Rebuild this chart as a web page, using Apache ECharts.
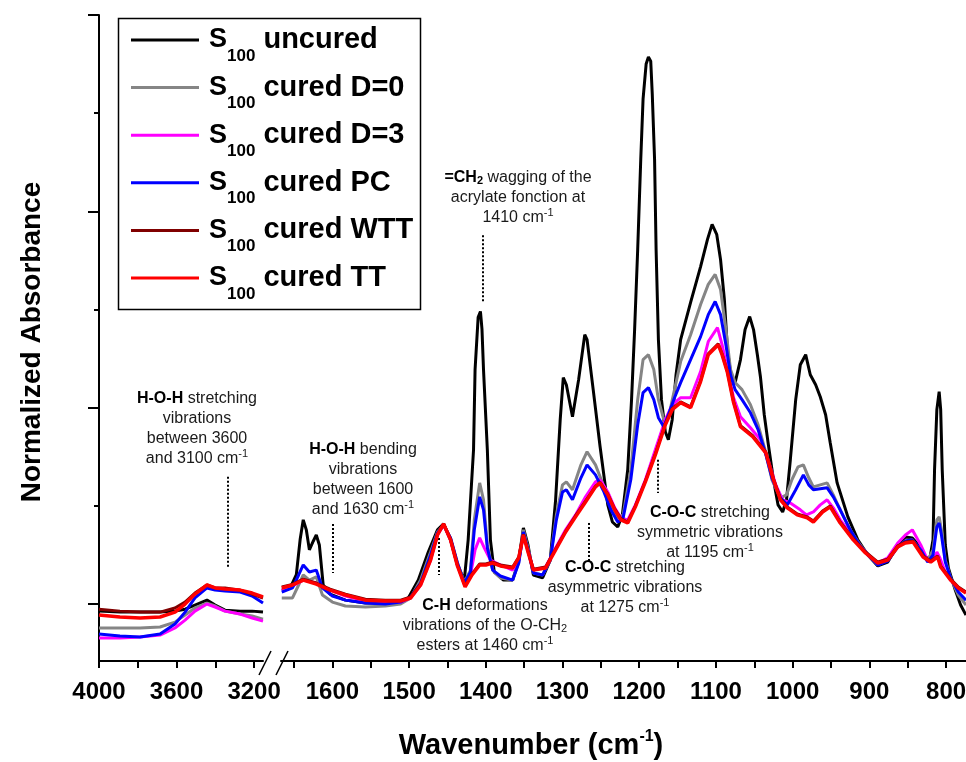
<!DOCTYPE html>
<html><head><meta charset="utf-8">
<script src="https://cdn.jsdelivr.net/npm/echarts@6.0.0/dist/echarts.min.js"></script>
<style>html,body{margin:0;padding:0;background:#fff}#c{width:966px;height:762px}</style>
</head><body><div id="c"></div>
<script>
// ---------- DATA ----------
const seriesNames = ['S100 uncured','S100 cured D=0','S100 cured D=3','S100 cured PC','S100 cured WTT','S100 cured TT'];
const seriesColors = ['#000000','#858585','#ff00ff','#0000ff','#800000','#ff0000'];

// x ticks / labels
const ticksHigh = [4000,3800,3600,3400,3200];
const labelsHigh = [4000,3600,3200];
const ticksLow = [1650,1600,1550,1500,1450,1400,1350,1300,1250,1200,1150,1100,1050,1000,950,900,850,800];
const labelsLow = [1600,1500,1400,1300,1200,1100,1000,900,800];
const yMajor = [0,10,20,30];
const yMinor = [5,15,25];

// high wavenumber segment (4000-3150 cm-1)
const wnHigh = [4000,3892,3788,3685,3608,3556,3505,3443,3401,3350,3272,3210,3154];
const uncuredHigh = [-0.36,-0.41,-0.41,-0.41,-0.36,-0.26,-0.05,0.20,-0.05,-0.31,-0.36,-0.36,-0.41];
const d0High  = [-1.22,-1.22,-1.22,-1.17,-0.92,-0.56,-0.20,0.05,-0.10,-0.36,-0.51,-0.61,-0.77];
const d3High  = [-1.73,-1.73,-1.68,-1.58,-1.22,-0.82,-0.36,0.00,-0.15,-0.36,-0.51,-0.71,-0.87];
const pcHigh  = [-1.53,-1.63,-1.68,-1.53,-1.02,-0.41,0.31,0.82,0.71,0.66,0.61,0.41,0.05];
const wttHigh = [-0.26,-0.36,-0.41,-0.41,-0.20,0.10,0.56,0.97,0.82,0.82,0.71,0.51,0.31];
const ttHigh  = [-0.56,-0.66,-0.71,-0.66,-0.41,0.00,0.51,0.97,0.82,0.77,0.71,0.56,0.36];

// low wavenumber segment (1667-774 cm-1): [wavenumber, absorbance]
const uncuredLow = [[1666,0.71],[1655,0.82],[1647,1.5],[1642,3.3],[1638,4.29],[1634,3.78],[1630,2.76],[1625,3.2],[1621,3.52],[1617,3.01],[1612,0.97],[1603,0.51],[1583,0.20],[1557,0.05],[1531,0.05],[1511,0.10],[1501,0.31],[1488,1.22],[1475,2.65],[1463,3.78],[1455,4.08],[1446,3.27],[1437,1.99],[1428,1.22],[1423,3.27],[1416,7.86],[1414,11.94],[1410,14.6],[1407,14.9],[1405,14.0],[1403,11.94],[1398,7.86],[1394,3.27],[1389,1.63],[1377,1.22],[1365,1.22],[1357,2.24],[1351,3.88],[1345,3.01],[1338,1.48],[1326,1.33],[1316,2.24],[1309,5.31],[1303,9.39],[1299,11.53],[1295,11.17],[1287,9.54],[1279,11.43],[1271,13.72],[1268,13.47],[1260,10.92],[1251,8.01],[1241,5.05],[1235,4.18],[1228,3.93],[1222,4.54],[1215,6.84],[1210,10.41],[1206,13.98],[1202,18.06],[1198,22.65],[1195,25.71],[1191,27.5],[1188,27.86],[1185,27.65],[1183,25.97],[1180,22.65],[1178,18.06],[1175,13.47],[1171,10.41],[1166,8.78],[1162,8.37],[1157,9.39],[1152,11.68],[1146,13.47],[1133,15.36],[1120,17.19],[1111,18.57],[1105,19.34],[1099,18.83],[1094,17.55],[1089,15.51],[1085,12.96],[1080,11.53],[1075,11.28],[1068,12.45],[1062,13.98],[1056,14.64],[1051,13.98],[1046,12.70],[1042,11.58],[1037,9.64],[1032,8.21],[1025,6.33],[1019,5.05],[1013,4.69],[1008,5.31],[1003,7.35],[996,10.41],[990,12.19],[983,12.70],[977,11.68],[970,11.17],[964,10.56],[957,9.64],[951,8.21],[942,6.17],[928,4.44],[915,3.27],[902,2.50],[889,1.94],[876,2.14],[863,3.01],[853,3.42],[844,3.37],[836,3.01],[828,2.40],[821,2.35],[817,3.27],[815,6.84],[812,9.90],[809,10.82],[807,9.90],[805,6.84],[801,3.01],[797,1.84],[788,0.71],[781,-0.05],[774,-0.56]];
const d0Low = [[1666,0.31],[1652,0.31],[1644,0.97],[1638,1.48],[1630,1.22],[1621,1.38],[1613,0.46],[1600,0.10],[1583,-0.10],[1557,-0.15],[1531,-0.10],[1511,0.0],[1498,0.31],[1485,1.22],[1472,2.65],[1463,3.67],[1455,4.03],[1446,3.37],[1437,2.09],[1428,1.12],[1420,1.73],[1415,4.29],[1408,6.17],[1403,5.31],[1398,3.01],[1391,1.73],[1381,1.33],[1365,1.22],[1357,2.14],[1351,3.78],[1345,2.86],[1338,1.58],[1326,1.48],[1316,2.24],[1308,4.54],[1300,6.07],[1295,6.22],[1287,5.82],[1276,7.09],[1268,7.76],[1257,7.09],[1246,5.97],[1237,5.05],[1228,4.39],[1221,4.54],[1211,6.84],[1202,10.41],[1195,12.45],[1188,12.70],[1181,11.94],[1175,10.41],[1168,9.39],[1162,9.49],[1154,10.92],[1146,12.35],[1133,13.72],[1120,15.26],[1110,16.28],[1101,16.79],[1094,16.02],[1087,13.98],[1081,11.94],[1075,11.28],[1066,10.92],[1055,10.15],[1045,9.13],[1036,7.86],[1027,6.33],[1016,5.41],[1008,5.56],[1001,6.33],[993,6.99],[986,7.09],[979,6.43],[973,5.97],[964,6.07],[955,6.17],[947,5.56],[938,4.80],[925,3.78],[912,3.01],[899,2.40],[889,1.99],[876,2.24],[863,2.91],[853,3.21],[844,3.27],[833,2.76],[824,2.24],[817,2.76],[812,4.29],[809,4.44],[806,3.78],[801,2.24],[794,1.33],[784,0.46],[774,-0.05]];
const d3Low = [[1666,0.71],[1652,0.92],[1638,1.22],[1621,1.07],[1603,0.71],[1583,0.41],[1557,0.15],[1531,0.05],[1511,0.10],[1498,0.31],[1485,0.97],[1472,2.24],[1463,3.52],[1455,4.03],[1446,3.27],[1437,1.99],[1428,1.02],[1420,1.48],[1414,2.76],[1408,3.37],[1402,2.86],[1394,2.24],[1381,1.99],[1365,1.73],[1357,2.24],[1351,3.52],[1345,2.76],[1338,1.73],[1322,1.89],[1309,2.86],[1296,3.78],[1283,4.54],[1270,5.46],[1257,6.22],[1251,6.33],[1241,5.71],[1232,4.90],[1224,4.39],[1215,4.29],[1205,5.05],[1192,6.33],[1179,7.86],[1166,9.39],[1157,10.15],[1146,10.51],[1133,10.51],[1120,11.84],[1110,13.37],[1098,14.08],[1092,13.21],[1085,11.94],[1077,10.51],[1068,9.54],[1055,8.98],[1042,8.37],[1032,7.35],[1022,6.07],[1013,5.31],[1003,5.15],[990,4.80],[982,4.54],[973,4.69],[964,5.05],[955,5.31],[947,4.90],[938,4.29],[925,3.62],[912,2.96],[899,2.40],[889,2.09],[876,2.35],[863,3.11],[853,3.52],[844,3.78],[833,3.01],[824,2.24],[817,2.24],[812,2.65],[808,2.35],[801,1.63],[794,1.22],[784,0.82],[774,0.61]];
const pcLow = [[1666,0.61],[1652,0.82],[1644,1.48],[1638,1.99],[1630,1.63],[1621,1.73],[1613,0.82],[1600,0.41],[1583,0.20],[1557,0.05],[1531,0.0],[1511,0.10],[1498,0.36],[1485,1.07],[1472,2.50],[1463,3.62],[1455,4.03],[1446,3.37],[1437,2.09],[1428,1.07],[1420,1.63],[1415,3.78],[1408,5.46],[1403,4.80],[1398,2.86],[1391,1.73],[1381,1.43],[1365,1.22],[1357,2.09],[1351,3.67],[1345,2.76],[1338,1.58],[1326,1.48],[1316,2.24],[1308,4.29],[1300,5.71],[1295,5.82],[1287,5.31],[1276,6.43],[1268,7.09],[1257,6.58],[1246,5.71],[1237,4.80],[1228,4.18],[1221,4.39],[1211,6.33],[1202,9.13],[1195,10.77],[1188,11.02],[1181,10.41],[1175,9.49],[1168,9.03],[1162,9.64],[1154,10.51],[1146,11.28],[1133,12.45],[1120,13.62],[1110,14.74],[1101,15.41],[1094,14.74],[1087,13.21],[1081,11.68],[1075,10.92],[1066,10.41],[1055,9.74],[1045,8.88],[1036,7.76],[1027,6.43],[1016,5.41],[1007,5.05],[996,5.82],[986,6.58],[979,6.07],[973,5.82],[964,5.87],[955,5.92],[947,5.46],[938,4.80],[925,3.78],[912,2.96],[899,2.40],[889,1.99],[876,2.19],[863,2.91],[853,3.21],[844,3.27],[833,2.76],[824,2.14],[817,2.50],[812,3.93],[809,4.13],[806,3.52],[801,2.14],[794,1.33],[784,0.61],[774,0.20]];
const wttLow = [[1666,0.87],[1652,1.0],[1638,1.27],[1621,1.07],[1603,0.76],[1583,0.5],[1557,0.25],[1531,0.2],[1511,0.2],[1498,0.36],[1485,1.02],[1472,2.3],[1463,3.55],[1455,4.08],[1446,3.3],[1437,1.99],[1427,0.92],[1418,1.53],[1408,2.04],[1400,2.04],[1391,2.14],[1381,1.99],[1365,1.89],[1357,2.4],[1351,3.55],[1345,2.7],[1338,1.78],[1322,1.89],[1309,2.8],[1296,3.7],[1283,4.5],[1270,5.25],[1257,6.0],[1251,6.2],[1241,5.6],[1232,4.85],[1224,4.35],[1215,4.18],[1205,5.0],[1192,6.27],[1179,7.65],[1166,9.18],[1157,9.95],[1146,10.3],[1133,10.05],[1120,11.38],[1110,12.75],[1097,13.26],[1092,12.75],[1085,11.84],[1077,10.31],[1068,9.08],[1052,8.57],[1035,7.75],[1025,6.38],[1016,5.36],[1007,4.95],[994,4.59],[981,4.44],[973,4.23],[961,4.74],[951,5.0],[938,4.18],[921,3.32],[905,2.65],[889,2.14],[876,2.29],[863,2.96],[853,3.16],[843,3.21],[830,2.45],[820,2.19],[811,2.45],[807,1.94],[794,1.27],[784,0.87],[774,0.61]];
const ttLow = [[1666,0.82],[1652,0.97],[1638,1.22],[1621,1.02],[1603,0.71],[1583,0.46],[1557,0.20],[1531,0.15],[1511,0.15],[1498,0.31],[1485,0.97],[1472,2.24],[1463,3.52],[1455,4.08],[1446,3.27],[1437,1.94],[1427,0.87],[1418,1.48],[1408,1.99],[1400,1.99],[1391,2.09],[1381,1.94],[1365,1.84],[1357,2.35],[1351,3.52],[1345,2.65],[1338,1.73],[1322,1.84],[1309,2.76],[1296,3.67],[1283,4.44],[1270,5.20],[1257,5.97],[1251,6.17],[1241,5.56],[1232,4.80],[1224,4.29],[1215,4.13],[1205,4.95],[1192,6.22],[1179,7.60],[1166,9.13],[1157,9.90],[1146,10.26],[1133,10.0],[1120,11.33],[1110,12.70],[1097,13.21],[1092,12.70],[1085,11.79],[1077,10.26],[1068,9.03],[1052,8.52],[1035,7.70],[1025,6.33],[1016,5.31],[1007,4.90],[994,4.54],[981,4.39],[973,4.18],[961,4.69],[951,4.95],[938,4.13],[921,3.27],[905,2.60],[889,2.09],[876,2.24],[863,2.91],[853,3.11],[843,3.16],[830,2.40],[820,2.14],[811,2.40],[807,1.89],[794,1.22],[784,0.82],[774,0.56]];

// annotation dotted markers (wavenumber, top, bottom in absorbance units)
const annotWn = [3334, 1599, 1404, 1462, 1266, 1176];
const annotTop = [6.48, 4.08, 18.78, 3.37, 4.13, 7.35];
const annotBottom = [1.84, 1.58, 15.36, 1.48, 2.09, 5.66];
const annotTexts = [
  '{b|H-O-H} stretching\nvibrations\nbetween 3600\nand 3100 cm{sup|-1}',
  '{b|H-O-H} bending\nvibrations\nbetween 1600\nand 1630 cm{sup|-1}',
  '{b|=CH}{bsub|2} wagging of the\nacrylate fonction at\n1410 cm{sup|-1}',
  '{b|C-H} deformations\nvibrations of the O-CH{sub|2}\nesters at 1460 cm{sup|-1}',
  '{b|C-O-C} stretching\nasymmetric vibrations\nat 1275 cm{sup|-1}',
  '{b|C-O-C} stretching\nsymmetric vibrations\nat 1195 cm{sup|-1}'
];

// ---------- CHART ----------
const FONT = "'Liberation Sans', Arial, sans-serif";
const chart = echarts.init(document.getElementById('c'));
const highData = [uncuredHigh, d0High, d3High, pcHigh, wttHigh, ttHigh];
const lowData = [uncuredLow, d0Low, d3Low, pcLow, wttLow, ttLow];

const dotted = {color:'#000', width:2, type:[2,2]};
function markLineFor(idxs){
  return {silent:true, symbol:['none','none'], label:{show:false}, lineStyle:dotted, animation:false,
    data: idxs.map(i => [{coord:[annotWn[i], annotTop[i]]},{coord:[annotWn[i], annotBottom[i]]}])};
}

const series = [];
seriesNames.forEach((name, i) => {
  const w = i === 5 ? 3.5 : 3;
  const base = {name, type:'line', symbol:'none', silent:true, animation:false, z: 2 + i,
    lineStyle:{color:seriesColors[i], width:w}, itemStyle:{color:seriesColors[i]}};
  series.push(Object.assign({}, base, {xAxisIndex:0, yAxisIndex:0,
    data: wnHigh.map((wn, j) => [wn, highData[i][j]])},
    i === 0 ? {markLine: markLineFor([0])} : {}));
  series.push(Object.assign({}, base, {xAxisIndex:1, yAxisIndex:2, data: lowData[i]},
    i === 0 ? {markLine: markLineFor([1,2,3,4,5])} : {}));
});

const axisLineStyle = {show:true, onZero:false, lineStyle:{color:'#000', width:2}};
const tickLabel = {fontFamily:FONT, fontSize:24, fontWeight:'bold', color:'#000', margin:19,
  formatter: v => String(v)};

const annotStyleBase = {fontFamily:FONT, fontSize:16, fill:'#1a1a1a', lineHeight:20.3,
  align:'center', textAlign:'center', verticalAlign:'top', textVerticalAlign:'top',
  rich:{
    b:{fontFamily:FONT, fontSize:16, fontWeight:'bold', fill:'#000'},
    bsub:{fontFamily:FONT, fontSize:11, fontWeight:'bold', fill:'#000', padding:[8,0,0,0]},
    sub:{fontFamily:FONT, fontSize:11, fill:'#1a1a1a', padding:[8,0,0,0]},
    sup:{fontFamily:FONT, fontSize:11, fill:'#1a1a1a', padding:[0,0,10,0]}
  }};
const annotPos = [[197,388],[363,439],[518,167],[485,595],[625,557],[710,502]];
const annotGraphics = annotTexts.map((t, i) => ({
  type:'text', x:annotPos[i][0], y:annotPos[i][1], z:10, silent:true,
  style:Object.assign({}, annotStyleBase, {text:t})
}));

const option = {
  animation:false,
  backgroundColor:'#fff',
  grid:[
    {left:99, top:15, width:164, height:646, outerBoundsMode:'none', containLabel:false},
    {left:281, top:15, right:0, height:646, outerBoundsMode:'none', containLabel:false}
  ],
  xAxis:[
    {gridIndex:0, type:'value', inverse:true, min:3154, max:4000,
      axisLine:axisLineStyle, splitLine:{show:false},
      axisTick:{show:true, customValues:ticksHigh, length:7, lineStyle:{color:'#000', width:2}},
      axisLabel:Object.assign({customValues:labelsHigh}, tickLabel)},
    {gridIndex:1, type:'value', inverse:true, min:774, max:1667,
      axisLine:axisLineStyle, splitLine:{show:false},
      axisTick:{show:true, customValues:ticksLow, length:7, lineStyle:{color:'#000', width:2}},
      axisLabel:Object.assign({customValues:labelsLow}, tickLabel)}
  ],
  yAxis:[
    {gridIndex:0, type:'value', min:-2.9, max:30, position:'left',
      axisLine:axisLineStyle, splitLine:{show:false},
      axisTick:{show:true, customValues:yMajor, length:11, lineStyle:{color:'#000', width:2}},
      axisLabel:{show:false}},
    {gridIndex:0, type:'value', min:-2.9, max:30, position:'left',
      axisLine:{show:false, onZero:false}, splitLine:{show:false},
      axisTick:{show:true, customValues:yMinor, length:5, lineStyle:{color:'#000', width:2}},
      axisLabel:{show:false}},
    {gridIndex:1, type:'value', min:-2.9, max:30, show:false}
  ],
  legend:{
    data:seriesNames, orient:'vertical', left:118, top:10, padding:[5.5,4,0,13],
    itemGap:-1.4, itemWidth:68, itemHeight:3, icon:'rect', selectedMode:false,
    backgroundColor:'transparent', borderWidth:0, z:5,
    formatter: n => '{s|S}{sub|100}{t| ' + n.slice(5) + '}',
    textStyle:{fontFamily:FONT, fontSize:29, fontWeight:'bold', color:'#000',
      rich:{
        s:{fontFamily:FONT, fontSize:27, fontWeight:'bold', color:'#000', padding:[0,0,0,5], lineHeight:30},
        sub:{fontFamily:FONT, fontSize:17, fontWeight:'bold', color:'#000', padding:[32,0,0,0], lineHeight:20},
        t:{fontFamily:FONT, fontSize:29, fontWeight:'bold', color:'#000', lineHeight:30}
      }}
  },
  graphic:[
    {type:'rect', z:0, silent:true, shape:{x:118.5, y:18.5, width:302, height:291},
      style:{fill:'#fff', stroke:'#000', lineWidth:1.5}},
    {type:'line', z:10, silent:true, shape:{x1:259, y1:675, x2:271, y2:651}, style:{stroke:'#000', lineWidth:1.5}},
    {type:'line', z:10, silent:true, shape:{x1:276, y1:675, x2:288, y2:651}, style:{stroke:'#000', lineWidth:1.5}},
    {type:'text', x:531, y:746, z:10, silent:true,
      style:{text:'{b|Wavenumber (cm}{sup|-1}{b|)}', align:'center', textAlign:'center',
        verticalAlign:'middle', textVerticalAlign:'middle', fontFamily:FONT, fontSize:29, fontWeight:'bold', fill:'#000',
        rich:{b:{fontFamily:FONT, fontSize:29, fontWeight:'bold', fill:'#000'},
              sup:{fontFamily:FONT, fontSize:16, fontWeight:'bold', fill:'#000', padding:[0,0,18,0]}}}},
    {type:'text', x:32, y:342, rotation:Math.PI/2, z:10, silent:true,
      style:{text:'Normalized Absorbance', align:'center', textAlign:'center',
        verticalAlign:'middle', textVerticalAlign:'middle', fontFamily:FONT, fontSize:28, fontWeight:'bold', fill:'#000'}}
  ].concat(annotGraphics),
  series
};
chart.setOption(option);
</script>
</body></html>
